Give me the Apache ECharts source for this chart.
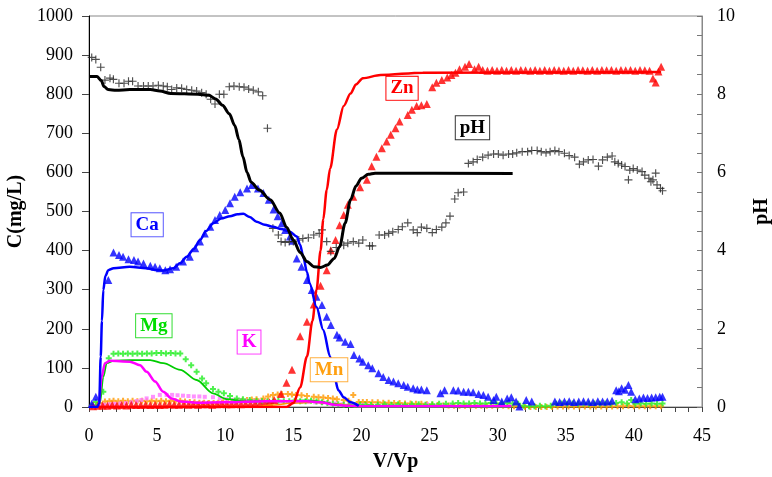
<!DOCTYPE html>
<html>
<head>
<meta charset="utf-8">
<script src="https://cdn.jsdelivr.net/npm/echarts@6/dist/echarts.min.js"></script>
<style>
  html, body { margin: 0; padding: 0; background: #fff; }
  #main { width: 772px; height: 477px; }
</style>
</head>
<body>
<div id="main"></div>
<script>
// x = V/Vp, y = concentration (mg/L) or pH
const phModel = [[0,8.45],[0.6,8.45],[0.9,8.35],[1.1,8.2],[1.4,8.12],[2,8.1],[3,8.12],[4.5,8.12],[5.2,8.08],[6,8.02],[8,8.0],[8.8,7.97],[9.3,7.88],[9.8,7.72],[10.3,7.5],[10.7,7.2],[11.0,6.85],[11.3,6.4],[11.6,6.0],[11.9,5.75],[12.5,5.55],[13.3,5.3],[14.0,4.96],[14.5,4.6],[15.0,4.27],[15.5,3.95],[16.0,3.72],[16.5,3.59],[17.0,3.57],[17.5,3.63],[18.0,3.8],[18.4,4.1],[18.8,4.7],[19.2,5.3],[19.6,5.65],[20.0,5.85],[20.5,5.95],[21,5.98],[31.1,5.97]]
const phObs = [[0.2,8.94],[0.5,8.89],[0.86,8.69],[1.17,8.36],[1.54,8.41],[1.79,8.38],[2.2,8.28],[2.57,8.28],[2.9,8.33],[3.2,8.33],[3.6,8.21],[4.0,8.21],[4.35,8.21],[4.7,8.21],[5.09,8.23],[5.45,8.21],[5.75,8.19],[6.07,8.12],[6.44,8.16],[6.8,8.15],[7.17,8.12],[7.54,8.1],[7.9,8.08],[8.27,8.04],[8.6,8.0],[8.93,7.87],[9.25,7.75],[9.57,8.0],[9.9,8.0],[10.3,8.19],[10.64,8.21],[11.03,8.19],[11.38,8.18],[11.72,8.13],[12.06,8.1],[12.43,8.06],[12.75,7.96],[13.1,7.13],
  [13.5,4.57],[13.9,4.4],[14.1,4.23],[14.4,4.21],[14.7,4.23],[15.0,4.23],[15.4,4.27],[15.7,4.31],[16.1,4.33],[16.5,4.4],[16.9,4.44],[17.1,4.53],[17.45,4.23],[17.75,3.98],[18.15,4.08],[18.7,4.14],[19.0,4.19],[19.4,4.23],[19.8,4.19],[20.1,4.27],[20.6,4.12],[20.8,4.12],[21.3,4.4],[21.7,4.4],[22.0,4.44],[22.3,4.48],[22.7,4.54],[23.0,4.61],[23.4,4.71],[23.8,4.53],[24.1,4.46],[24.4,4.6],[24.8,4.57],[25.2,4.46],[25.5,4.54],[25.9,4.6],[26.2,4.71],[26.5,4.88],[26.85,5.32],[27.1,5.48],[27.5,5.5],
  [27.85,6.23],[28.2,6.27],[28.5,6.33],[28.9,6.39],[29.3,6.44],[29.7,6.47],[30.05,6.47],[30.4,6.44],[30.8,6.47],[31.1,6.47],[31.4,6.5],[31.8,6.53],[32.2,6.53],[32.5,6.56],[32.9,6.56],[33.2,6.53],[33.55,6.5],[33.85,6.53],[34.2,6.56],[34.5,6.53],[34.9,6.49],[35.25,6.43],[35.65,6.39],[36.0,6.21],[36.3,6.27],[36.65,6.32],[37.0,6.33],[37.4,6.16],[37.7,6.32],[38.05,6.39],[38.4,6.42],[38.6,6.27],[38.85,6.23],[39.1,6.19],[39.35,6.15],[39.6,5.81],[39.7,6.06],[39.95,6.1],[40.25,6.06],[40.6,6.02],[40.8,5.93],[41.1,5.85],[41.25,5.76],[41.4,5.81],[41.6,5.98],[41.7,5.68],[41.95,5.59],[42.1,5.53]]

const znModel = [[0,0],[14.5,0],[15.0,10],[15.5,50],[16.0,129],[16.4,220],[16.7,299],[17.0,400],[17.2,480],[17.45,555],[17.7,610],[18.2,710],[18.7,770],[19.2,802],[19.6,825],[20.1,841],[21.4,849],[24.5,855],[42,857]]
const znObs = [[0.3,2],[0.65,3],[1.0,4],[1.35,3],[1.7,5],[2.05,4],[2.4,5],[2.75,4],[3.1,6],[3.45,5],[3.8,5],[4.15,6],[4.5,5],[4.85,6],[5.2,5],[5.55,6],[5.9,7],[6.25,6],[6.6,6],[6.95,7],[7.3,6],[7.65,7],[8.0,6],[8.35,7],[8.7,7],[9.05,6],[9.4,7],[9.75,8],[10.1,7],[10.45,7],[10.8,8],[11.15,7],[11.5,8],[11.85,8],[12.2,9],[12.55,8],[12.9,10],[13.25,12],[13.6,18],
  [14.1,33],[14.5,62],[14.9,95],[15.5,181],[16.0,218],[16.5,262],[17.0,310],[17.45,350],[17.75,401],[18.1,427],[18.4,465],[18.7,491],[19.0,517],[19.4,538],[19.9,562],[20.4,581],[20.75,616],[21.1,640],[21.5,662],[21.85,679],[22.15,696],[22.5,713],[22.8,730],[23.4,747],[23.7,760],[24.05,770],[24.4,772],[24.8,775],[25.2,818],[25.5,829],[25.9,836],[26.3,843],[26.6,849],[26.9,855],[27.2,864],[27.6,870],[27.9,877],[28.3,864],[28.6,870],[28.9,862],
  [29.25,860],[29.6,862],[29.95,860],[30.3,862],[30.65,860],[31.0,862],[31.35,860],[31.7,862],[32.05,861],[32.4,860],[32.75,862],[33.1,860],[33.45,862],[33.8,860],[34.15,862],[34.5,861],[34.85,860],[35.2,862],[35.55,860],[35.9,862],[36.25,861],[36.6,860],[36.95,862],[37.3,860],[37.65,862],[38.0,861],[38.35,862],[38.7,860],[39.05,862],[39.4,861],[39.75,862],[40.1,860],[40.45,862],[40.8,861],[41.15,860],[41.4,840],[41.6,830],[41.8,858],[42.0,870]]

const caModel = [[0,0],[0.6,0],[0.75,9],[0.86,129],[0.95,220],[1.05,299],[1.2,335],[1.42,350],[1.8,355],[3.0,359],[4.2,355],[5.0,350],[5.45,349],[6.2,355],[6.7,368],[7.17,384],[7.7,405],[8.15,427],[8.6,450],[9.13,470],[9.7,482],[10.35,488],[10.9,493],[11.33,494],[11.8,486],[12.3,474],[12.9,466],[13.5,461],[14.1,455],[14.75,448],[15.25,436],[15.5,415],[15.73,384],[16.0,345],[16.2,316],[16.7,256],[17.2,197],[17.7,129],[18.0,80],[18.3,43],[18.7,25],[19.2,12],[19.8,3]]
const caObs = [[0.2,8],[0.5,26],[1.42,325],[1.8,395],[2.2,389],[2.5,384],[2.9,378],[3.3,376],[3.6,372],[4.0,367],[4.5,361],[4.85,359],[5.2,355],[5.6,350],[5.95,352],[6.4,359],[6.9,372],[7.4,384],[7.8,406],[8.15,423],[8.5,444],[8.9,461],[9.25,478],[9.6,491],[10.0,504],[10.35,521],[10.7,538],[11.1,549],[11.6,559],[11.95,568],[12.4,559],[12.8,547],[13.2,530],[13.55,505],[13.85,488],[14.15,470],[14.4,453],[14.75,436],[14.95,425],[15.25,380],[15.6,359],[16.0,325],[16.35,299],[16.7,282],[17.1,261],[17.45,231],[17.75,210],[18.2,185],[18.4,178],[18.8,167],[19.2,161],[19.45,133],[19.85,124],[20.1,116],[20.5,107],[20.8,99],[21.25,86],[21.6,77],[22.0,69],[22.35,65],[22.7,61],[23.1,56],[23.4,52],[23.8,48],[24.1,45],[24.4,45],[24.8,43],
  [25.8,35],[26.1,43],[26.75,43],[27.1,42],[27.5,39],[27.85,39],[28.2,38],[28.6,33],[28.95,31],[29.3,26],[29.7,18],[29.9,26],[30.3,14],[30.7,22],[31.0,25],[31.35,14],[31.6,1],[32.1,18],[32.5,14],
  [34.2,14],[34.55,13],[34.9,14],[35.25,15],[35.6,13],[35.95,14],[36.3,15],[36.65,14],[37.0,13],[37.35,15],[37.7,14],[38.05,14],[38.4,16],[38.7,43],[38.9,40],[39.1,48],[39.35,44],[39.6,56],[39.8,39],[40.1,20],[40.4,22],[40.7,24],[41.0,23],[41.3,24],[41.6,25],[41.9,26],[42.1,26]]

const mgModel = [[0,0],[0.44,0],[0.8,9],[1.05,77],[1.3,112],[1.8,118],[3.0,120],[4.5,120],[5.45,112],[6.7,95],[7.9,69],[9.1,35],[10.1,20],[11.6,14],[12.8,15],[14,15],[16,17],[17,14],[18,7],[19,2],[20,0],[31,0]]
const mgObs = [[0.2,3],[0.5,13],[1.05,39],[1.45,125],[1.8,136],[2.15,137],[2.5,136],[2.85,137],[3.2,136],[3.55,137],[3.9,136],[4.25,137],[4.6,137],[4.95,138],[5.3,138],[5.65,137],[6.0,138],[6.35,137],[6.7,137],[7.1,122],[7.5,107],[7.9,90],[8.3,73],[8.6,61],[9.1,46],[9.5,39],[9.9,35],[10.35,28],[10.85,22],[11.3,20],[11.8,18],[12.3,16],[12.7,15],[13.1,14],[13.5,15],[13.9,16],[14.3,15],[14.7,15],[15.1,16],[15.5,15],[15.9,15],[16.3,16],[16.7,14],[17.1,12],[17.5,10],[17.9,8],[18.3,7],[18.7,6],[19.1,5],[19.5,5],[19.9,6],[20.3,6],[20.7,5],
  [21.2,6],[21.7,7],[22.2,6],[22.7,7],[23.2,6],[23.7,7],[24.2,7],[24.7,6],[25.2,7],[25.7,8],[26.2,8],[26.7,9],[27.1,10],[27.5,9],[27.9,9],[28.3,10],[28.7,9],[29.1,9],[29.5,10],[29.9,9],[30.3,9],[30.7,10],[31.1,9],[31.5,8],[31.9,3],[32.3,2],[32.7,2],[33.1,3],[33.5,2],[33.9,3],[34.3,8],[34.7,9],[35.1,8],[35.5,9],[35.9,8],[36.3,9],[36.7,8],[37.1,9],[37.5,8],[37.9,9],[38.3,8],[38.7,10],[39.1,12],[39.5,9],[39.8,18],[40.1,8],[40.5,9],[40.9,8],[41.3,9],[41.7,8],[42.1,9]]

const kModel = [[0,0],[0.7,0],[0.93,77],[1.17,112],[1.54,118],[3.0,116],[3.75,107],[4.23,90],[4.85,65],[5.45,39],[6.07,22],[6.7,14],[7.9,11],[10,12],[13,15],[16,15],[17,12],[18,6],[19,3],[20,2],[31,2]]
const kObs = [[0.3,3],[0.7,5],[1.1,6],[1.5,7],[1.9,8],[2.3,9],[2.7,10],[3.1,12],[3.5,15],[3.85,18],[4.23,22],[4.7,26],[5.2,31],[5.7,31],[6.1,31],[6.5,30],[6.9,29],[7.3,28],[7.7,27],[8.1,27],[8.5,26],[9.1,25],[9.6,22],[10.1,20],[10.6,18],[11.1,17],[11.6,16],[12.1,15],[12.6,15],[13.1,14],[13.6,14],[14.1,14],[14.6,13],[15.1,13],[15.6,13],[16.1,13],[16.6,12],[17.1,11],[17.6,10],[18.1,9],[18.6,7],[19.1,6],[19.6,5],[20.1,5],[20.6,4],[21.2,4],[21.8,3],[22.4,3],[23,3],[23.6,3],[24.2,3],[24.8,7],[25.4,3],[26,3],[26.6,3],[27.2,3],[27.8,3],[28.4,3],[29,3],[29.6,3],[30.2,3],[30.8,3]]

const mnModel = [[0,0],[12,0],[13.5,5],[15,10],[16.5,12],[18,8],[19.5,3],[21,0],[31,0]]
const mnObs = [[0.3,5],[0.75,10],[1.17,14],[1.5,15],[1.8,16],[2.15,15],[2.5,16],[2.85,15],[3.2,16],[3.55,15],[3.9,16],[4.25,15],[4.6,16],[4.95,15],[5.3,16],[5.65,15],[6.0,16],[6.35,15],[6.7,16],[7.05,14],[7.4,13],[7.75,12],[8.1,11],[8.45,11],[8.8,10],[9.15,10],[9.5,11],[9.85,12],[10.2,13],[10.55,14],[10.9,15],[11.25,16],[11.6,18],[11.95,19],[12.3,20],[12.8,22],[13.15,27],[13.5,31],[13.85,32],[14.15,33],[14.6,33],[14.9,32],[15.2,31],[15.6,30],[16.0,28],[16.5,26],[16.85,25],[17.2,24],[17.55,23],[17.9,22],[18.2,20],[18.7,18],[19.05,16],[19.4,31],[19.8,13],[20.1,13],[20.4,13],[20.8,12],[21.2,12],[21.6,11],[22.0,11],[22.4,10],[22.8,10],[23.2,9],[23.6,9],[24.0,8],[24.4,8],[24.8,7],[25.2,6],[25.6,5],[26.0,4],[26.4,4],[26.8,3],[27.2,3],[27.6,3],[28.0,3],[28.4,3],[28.8,3],[29.2,3],[29.6,3],[30.0,3],[30.4,3],[30.8,2],[31.2,2],[31.6,1],[32.0,0],[32.4,0],[32.8,0],[33.2,0],[33.6,0],[34.0,0],[34.4,1],[34.8,1],[35.2,1],[35.6,1],[36.0,1],[36.4,1],[36.8,1],[37.2,1],[37.6,1],[38.0,1],[38.4,1],[38.8,2],[39.2,2],[39.6,3],[40.0,2],[40.4,2],[40.8,2],[41.2,2],[41.6,2],[42.0,2]]

// boxed series names, placed in (V/Vp, mg/L)
const annotations = [
  { text: 'Zn', at: [22.98, 815], color: '#ff0000', border: '#ff0000' },
  { text: 'pH', at: [28.15, 714], color: '#000000', border: '#333333' },
  { text: 'Ca', at: [4.27, 466], color: '#0000ff', border: '#5a5aff' },
  { text: 'Mg', at: [4.76, 208], color: '#00dd00', border: '#33dd33' },
  { text: 'K', at: [11.75, 166], color: '#ff00ff', border: '#ff33ff' },
  { text: 'Mn', at: [17.62, 95], color: '#ffa010', border: '#ffb040' }
]

const FONT = '"Liberation Serif", "Times New Roman", serif'
const PLUS = 'path://M3,0h1v3h3v1h-3v3h-1v-3h-3v-1h3z'
const FAT_PLUS = 'path://M2,0h2v2h2v2h-2v2h-2v-2h-2v-2h2z'

function line(name, data, color, width, yAxisIndex) {
  return {
    name, type: 'line', data, yAxisIndex: yAxisIndex || 0,
    showSymbol: false, smooth: 0.3, smoothMonotone: 'x',
    lineStyle: { color, width }, z: 3
  }
}
function dots(name, data, symbol, size, color, yAxisIndex) {
  return {
    name, type: 'scatter', data, yAxisIndex: yAxisIndex || 0,
    symbol, symbolSize: size, itemStyle: { color }, z: 2
  }
}

const chart = echarts.init(document.getElementById('main'))
chart.setOption({
  animation: false,
  grid: {
    left: 89, right: 70, top: 16, bottom: 70,
    outerBoundsMode: 'none', containLabel: false,
    show: true, borderColor: '#888', borderWidth: 1
  },
  xAxis: {
    type: 'value', min: 0, max: 45, interval: 5,
    name: 'V/Vp', nameLocation: 'middle', nameGap: 45,
    nameTextStyle: { fontFamily: FONT, fontWeight: 'bold', fontSize: 20, color: '#000' },
    axisLine: { lineStyle: { color: '#444' } },
    axisTick: { length: 5, lineStyle: { color: '#444' } },
    minorTick: { show: true, splitNumber: 5, length: 5, lineStyle: { color: '#444' } },
    axisLabel: { fontFamily: FONT, fontSize: 18, color: '#000', margin: 20 },
    splitLine: { show: false }
  },
  yAxis: [{
    type: 'value', min: 0, max: 1000, interval: 100,
    name: 'C(mg/L)', nameLocation: 'middle', nameGap: 50, nameRotate: 90,
    nameTextStyle: { fontFamily: FONT, fontWeight: 'bold', fontSize: 20, color: '#000' },
    axisLine: { show: true, lineStyle: { color: '#000' } },
    axisTick: { show: true, length: 7, lineStyle: { color: '#444' } },
    axisLabel: { fontFamily: FONT, fontSize: 18, color: '#000', margin: 16, formatter: v => String(v) },
    splitLine: { show: false }
  }, {
    type: 'value', position: 'right', min: 0, max: 10, interval: 2,
    name: 'pH', nameLocation: 'middle', nameGap: 50, nameRotate: 90,
    nameTextStyle: { fontFamily: FONT, fontWeight: 'bold', fontSize: 20, color: '#000' },
    axisLine: { show: true, lineStyle: { color: '#888' } },
    axisTick: { show: true, inside: true, length: 5, lineStyle: { color: '#777' } },
    minorTick: { show: true, splitNumber: 4, length: 5, lineStyle: { color: '#777' } },
    axisLabel: { fontFamily: FONT, fontSize: 18, color: '#000', margin: 15 },
    splitLine: { show: false }
  }],
  series: [
    dots('Mn obs', mnObs, FAT_PLUS, 6, '#ff9900'),
    dots('K obs', kObs, 'rect', 4, '#ff77ff'),
    dots('Mg obs', mgObs, FAT_PLUS, 6, '#22ee22'),
    dots('Zn obs', znObs, 'triangle', 8, '#ff0000'),
    dots('Ca obs', caObs, 'triangle', 8, '#0000ff'),
    dots('pH obs', phObs, PLUS, 8, '#222222', 1),
    line('Mn', mnModel, '#ff9900', 1.5),
    line('Mg', mgModel, '#00cc00', 1.8),
    line('K', kModel, '#ff00ff', 2.5),
    line('Zn', znModel, '#ff0000', 2.5),
    line('Ca', caModel, '#0000ff', 2.5),
    line('pH', phModel, '#000000', 3, 1)
  ]
})

// boxed labels, positioned through the axes
chart.setOption({
  graphic: annotations.map(a => {
    const p = chart.convertToPixel({ xAxisIndex: 0, yAxisIndex: 0 }, a.at)
    return {
      type: 'text', x: p[0], y: p[1], z: 100,
      style: {
        text: a.text, fill: a.color,
        font: 'bold 19px ' + FONT,
        align: 'center', verticalAlign: 'middle',
        backgroundColor: '#fff', borderColor: a.border, borderWidth: 1,
        padding: [2, 4]
      }
    }
  })
})
</script>
</body>
</html>
